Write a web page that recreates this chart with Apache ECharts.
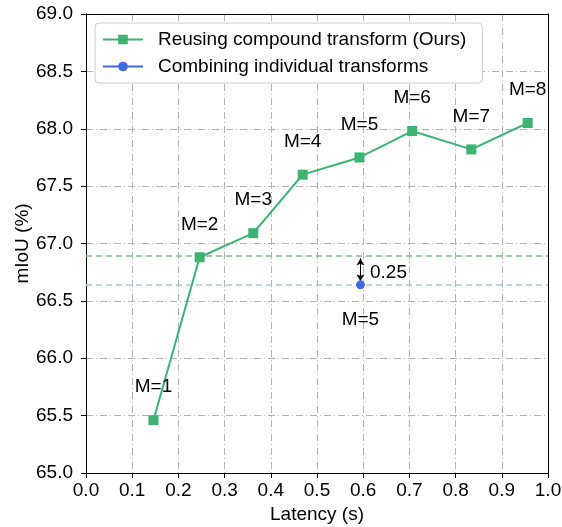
<!DOCTYPE html>
<html>
<head>
<meta charset="utf-8">
<script src="https://cdn.jsdelivr.net/npm/echarts@6/dist/echarts.min.js"></script>
<style>html,body{margin:0;padding:0;background:#fff}#c{width:562px;height:527px}</style>
</head>
<body>
<div id="c"></div>
<script>
var latencyOurs = [0.146, 0.246, 0.362, 0.469, 0.592, 0.706, 0.834, 0.956];
var miouOurs = [65.46, 66.88, 67.09, 67.60, 67.75, 67.98, 67.82, 68.05];
var labelsOurs = ['M=1','M=2','M=3','M=4','M=5','M=6','M=7','M=8'];
var latencyComb = [0.594];
var miouComb = [66.64];
var labelsComb = ['M=5'];
var refGreen = 66.89;
var refBlue = 66.64;
var gapText = '0.25';

var FONT = 'Arial, "Liberation Sans", sans-serif';
var FS = 19;
var green = '#3cb371', blue = '#4169e1';
var chart = echarts.init(document.getElementById('c'), null, {renderer:'canvas'});
var gridLine = {show:true, lineStyle:{color:'#b4b4b4', width:1, type:[7,3,1,3]}};
function mk(xs, ys){ return xs.map(function(x,i){return [x, ys[i]];}); }
var frameAxis = {axisLine:{show:true, onZero:false, lineStyle:{color:'#000', width:1}}, axisTick:{show:false}, axisLabel:{show:false}, splitLine:{show:false}};

chart.setOption({
  animation:false,
  textStyle:{fontFamily:FONT},
  grid:{left:86, right:14, top:14, bottom:54, containLabel:false, outerBoundsMode:'none'},
  legend:{
    left:95, top:23, orient:'vertical', itemGap:8, itemWidth:40, itemHeight:12,
    padding:[7,16,7,7], backgroundColor:'#fff', borderColor:'#cccccc', borderWidth:1, borderRadius:4,
    textStyle:{fontSize:FS, color:'#000', fontFamily:FONT, padding:[0,0,0,10]},
    data:['Reusing compound transform (Ours)','Combining individual transforms']
  },
  xAxis:[{
    type:'value', min:0, max:1, interval:0.1,
    name:'Latency (s)', nameLocation:'middle', nameGap:32, nameMoveOverlap:false,
    nameTextStyle:{fontSize:FS, color:'#000', fontFamily:FONT},
    axisLine:{show:true, onZero:false, lineStyle:{color:'#000'}},
    axisTick:{show:true, length:5, lineStyle:{color:'#000'}},
    axisLabel:{fontSize:FS, color:'#000', margin:8, fontFamily:FONT, formatter:function(v){return v.toFixed(1);}},
    splitLine:gridLine
  }, Object.assign({type:'value', position:'top', min:0, max:1}, frameAxis)],
  yAxis:[{
    type:'value', min:65, max:69, interval:0.5,
    name:'mIoU (%)', nameLocation:'middle', nameGap:54, nameRotate:90, nameMoveOverlap:false,
    nameTextStyle:{fontSize:FS, color:'#000', fontFamily:FONT},
    axisLine:{show:true, onZero:false, lineStyle:{color:'#000'}},
    axisTick:{show:true, length:5, lineStyle:{color:'#000'}},
    axisLabel:{fontSize:FS, color:'#000', margin:13, fontFamily:FONT, formatter:function(v){return v.toFixed(1);}},
    splitLine:gridLine
  }, Object.assign({type:'value', position:'right', min:65, max:69}, frameAxis)],
  series:[
    {
      name:'Reusing compound transform (Ours)', type:'line',
      data:mk(latencyOurs, miouOurs),
      symbol:'rect', symbolSize:10,
      itemStyle:{color:green}, lineStyle:{color:green, width:2},
      label:{show:true, position:'inside', offset:[0,-33], fontSize:FS, color:'#000', fontFamily:FONT,
        formatter:function(p){return labelsOurs[p.dataIndex];}},
      markLine:{silent:true, symbol:'none', label:{show:false},
        lineStyle:{color:'#7dbf82', type:[6,4], width:1.5},
        data:[{yAxis:refGreen}]},
      z:5
    },
    {
      name:'Combining individual transforms', type:'line',
      data:mk(latencyComb, miouComb),
      symbol:'circle', symbolSize:9,
      itemStyle:{color:blue}, lineStyle:{color:blue, width:2},
      label:{show:true, position:'inside', offset:[0,35], fontSize:FS, color:'#000', fontFamily:FONT,
        formatter:function(p){return labelsComb[p.dataIndex];}},
      markLine:{silent:true, symbol:'none', label:{show:false},
        lineStyle:{color:'#b0c4de', type:[6,4], width:1.5},
        data:[{yAxis:refBlue}]},
      z:5
    },
    {
      type:'scatter', silent:true,
      data:[[latencyComb[0]+0.012, (refGreen+refBlue)/2 - 0.02]],
      symbolSize:0, itemStyle:{opacity:1, color:'#000'},
      label:{show:true, position:'right', distance:4, fontSize:FS, color:'#000', opacity:1, fontFamily:FONT,
        formatter:function(){return gapText;}},
      markLine:{silent:true, symbol:['arrow','arrow'], symbolSize:[6,7], label:{show:false},
        lineStyle:{color:'#000', type:'solid', width:1, opacity:1},
        data:[[{coord:[latencyComb[0], refGreen-0.02]},{coord:[latencyComb[0], refBlue+0.03]}]]},
      z:6
    }
  ]
});
</script>
</body>
</html>
